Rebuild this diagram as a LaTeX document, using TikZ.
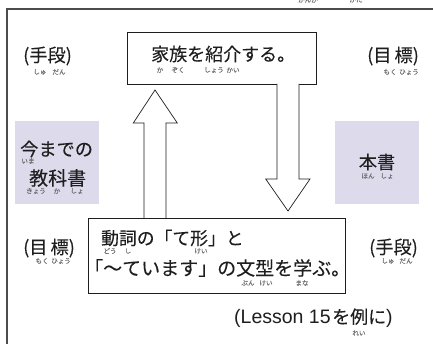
\documentclass[tikz,border=0pt]{standalone}
\usepackage{fontspec}
\setmainfont{Noto Sans CJK JP}[FakeBold=0.12]
\newfontfamily\latinfont{Liberation Sans}
\definecolor{lav}{RGB}{221,218,236}
\definecolor{ink}{RGB}{30,30,30}
\definecolor{rubyc}{RGB}{110,110,110}
\tikzset{
  frame/.style={draw=ink, line width=0.8pt},
  shadebox/.style={fill=lav, draw=none},
  blockarrow/.style={draw=ink, line width=0.7pt, fill=white, line join=miter},
  big/.style={inner sep=0pt, text=ink, font=\fontsize{18.2}{20}\selectfont},
  ruby/.style={inner sep=0pt, text=rubyc, font=\fontsize{6.6}{7}\selectfont},
}
\begin{document}
\begin{tikzpicture}[x=1pt,y=-1pt]
\useasboundingbox (0,0) rectangle (433,344);
% outer frame
\draw[draw=black!70, line width=1.6pt] (7,350) -- (7,9) -- (445,9);
% clipped text above the frame
\node[ruby] (cut1) at (308,-0.3) {かんが};
\node[ruby] (cut2) at (356,-0.3) {かた};

% boxes
\node[frame, minimum width=189pt, minimum height=52pt, inner sep=0pt] (top) at (221.5,58) {};
\node[frame, minimum width=257pt, minimum height=75pt, inner sep=0pt] (bot) at (216.5,255.5) {};
\node[shadebox, minimum width=84pt, minimum height=83pt, inner sep=0pt] (lbox) at (57,162.5) {};
\node[shadebox, minimum width=84pt, minimum height=83pt, inner sep=0pt] (rbox) at (377,162.5) {};

% block arrows
\coordinate (ua1) at (144,218);
\coordinate (ua2) at (166,218);
\draw[blockarrow] (ua1) -- (144,123) -- (133.3,123) -- (155,90) -- (177.3,123) -- (166,123) -- (ua2);
\coordinate (da1) at (277,84);
\coordinate (da2) at (299,84);
\draw[blockarrow] (da1) -- (277,179) -- (265.7,179) -- (288,211) -- (310,179) -- (299,179) -- (da2);

% top box text
\node[big, anchor=west, font=\fontsize{18}{20}\selectfont] (toptxt) at (151,54) {家族を紹介する。};
\node[ruby] (r1) at (160,70) {か};
\node[ruby] (r2) at (178,70) {ぞく};
\node[ruby] (r3) at (214,70) {しょう};
\node[ruby] (r4) at (233,70) {かい};

% left/right labels top
\node[big, anchor=west] (lt) at (23,56) {(手段)};
\node[ruby] (lt1) at (40,72) {しゅ};
\node[ruby] (lt2) at (59,72) {だん};
\node[big, anchor=west] (rt) at (367,56) {(目\,標)};
\node[ruby] (rt1) at (390,72) {もく};
\node[ruby] (rt2) at (409,72) {ひょう};

% shaded boxes text
\node[big, anchor=west] (l1) at (20,149) {今までの};
\node[ruby] (l1r) at (28,161) {いま};
\node[big, anchor=west, font=\fontsize{19}{20}\selectfont] (l2) at (29,178) {教科書};
\node[ruby] (l2r1) at (36,191) {きょう};
\node[ruby] (l2r2) at (57,191) {か};
\node[ruby] (l2r3) at (77,191) {しょ};
\node[big] (r1t) at (377,162) {本書};
\node[ruby] (r1r1) at (368,176) {ほん};
\node[ruby] (r1r2) at (387,176) {しょ};

% bottom box text
\node[big, anchor=west, font=\fontsize{17.8}{20}\selectfont] (b1) at (101,238) {動詞の「て形」と};
\node[ruby] (b1r1) at (110,251) {どう};
\node[ruby] (b1r2) at (128,251) {し};
\node[ruby] (b1r3) at (201,251) {けい};
\node[big, anchor=west, font=\fontsize{19}{20}\selectfont] (b2) at (84,268) {「〜ています」の文型を学ぶ。};
\node[ruby] (b2r1) at (248,283) {ぶん};
\node[ruby] (b2r2) at (266,283) {けい};
\node[ruby] (b2r3) at (302,283) {まな};

% bottom labels
\node[big, anchor=west] (lb) at (23,248) {(目\,標)};
\node[ruby] (lb1) at (42,261) {もく};
\node[ruby] (lb2) at (61,261) {ひょう};
\node[big, anchor=west] (rb) at (369,248) {(手段)};
\node[ruby] (rb1) at (388,261) {しゅ};
\node[ruby] (rb2) at (406,261) {だん};

% lesson
\node[big, anchor=west, font=\fontsize{19.5}{20}\latinfont] (les1) at (234,318) {(Lesson 15};
\node[big, anchor=west, font=\fontsize{18}{20}\selectfont] (les2) at (332,318) {を例に{\latinfont\fontsize{19.5}{20}\selectfont )}};
\node[ruby] (lesr) at (359,333) {れい};
\end{tikzpicture}
\end{document}
